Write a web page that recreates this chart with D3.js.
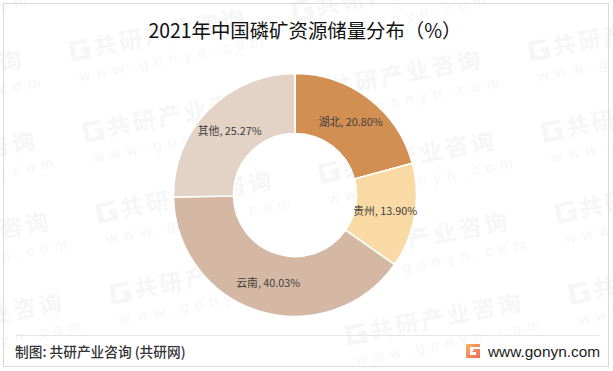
<!DOCTYPE html>
<html><head><meta charset="utf-8">
<script src="https://cdn.jsdelivr.net/npm/d3@7"></script>
<style>html,body{margin:0;padding:0;background:#fff}svg{display:block}</style>
</head><body><svg id="c" width="613" height="371"></svg>
<script>
const categories = ["湖北","贵州","云南","其他"];
const shares = [20.80,13.90,40.03,25.27];
const colors = ["#D28F52","#F9DAA4","#D4B8A3","#E3D2C6"];
const titleText = "2021年中国磷矿资源储量分布（%）";
const sourceText = "制图: 共研产业咨询 (共研网)";
const siteText = "www.gonyn.com";
const wmName = "共研产业咨询", wmSite = "www.gonyn.com";

const cjk = "'Noto Sans CJK SC','Noto Sans',sans-serif";
const svg = d3.select("#c");
const defs = svg.append("defs");
const g1 = defs.append("linearGradient").attr("id","lg").attr("x1",0).attr("y1",0).attr("x2",1).attr("y2",1);
g1.append("stop").attr("offset",0).attr("stop-color","#F9B25A");
g1.append("stop").attr("offset",1).attr("stop-color","#EE6A5A");

svg.append("rect").attr("width",613).attr("height",371).attr("fill","#fff");

// watermark tiles
const wm = svg.append("g").attr("fill","#f6f6f6");
function tile(x,y){
  const t = wm.append("g").attr("transform",`translate(${x},${y}) rotate(-11)`);
  t.append("path").attr("d","M-10,-10 L10,-10 L7,-6 L-5,-6 L-5,6 L4,6 L4,2 L0,2 L3,-2 L10,-2 L10,10 L-10,10 Z");
  t.append("text").attr("x",14).attr("y",8).attr("font-family",cjk).attr("font-weight",700)
    .attr("font-size",23).attr("letter-spacing",3).text(wmName);
  t.append("text").attr("x",-6).attr("y",31).attr("font-family","'Liberation Sans',sans-serif")
    .attr("font-size",15).attr("letter-spacing",6.5).text(wmSite);
}
const cols=[[-143,91],[80,50],[316,91],[539,50]];
cols.forEach(([x,y])=>{ d3.range(-1,4).forEach(i=>{
  const px=x+13.5*i, py=y+81*i;
  if(py>-20 && py<375) tile(px,py);
}); });

svg.append("rect").attr("x",3.5).attr("y",3.5).attr("width",605).attr("height",363)
  .attr("fill","none").attr("stroke","#d9d9d9").attr("stroke-width",1);

svg.append("text").attr("x",305).attr("y",37.5).attr("text-anchor","middle")
  .attr("font-family",cjk).attr("font-size",19.4).attr("fill","#111").text(titleText);

const cx=295, cy=195, R=121.5, r=61.5;
const pie=d3.pie().sort(null).value(d=>d);
const arc=d3.arc().innerRadius(r).outerRadius(R);
const ring=svg.append("g").attr("transform",`translate(${cx},${cy})`);
const arcs=pie(shares);
ring.selectAll("path").data(arcs).join("path").attr("d",arc)
  .attr("fill",(d,i)=>colors[i]).attr("stroke","#fff").attr("stroke-width",1.6);
ring.selectAll("text").data(arcs).join("text")
  .attr("transform",d=>`translate(${arc.centroid(d)})`).attr("dy",4)
  .attr("text-anchor","middle").attr("font-family",cjk).attr("font-size",10.8).attr("fill","#404040")
  .text((d,i)=>`${categories[i]}, ${shares[i].toFixed(2)}%`);

svg.append("line").attr("x1",16).attr("x2",599).attr("y1",335.5).attr("y2",335.5).attr("stroke","#e6e6e6");
svg.append("text").attr("x",15).attr("y",357).attr("font-family",cjk).attr("font-size",13.7).attr("font-weight",500)
  .attr("fill","#333").text(sourceText);
svg.append("path").attr("transform","translate(466,344)")
  .attr("d","M0,0 L14,0 L14,3 L4,3 L4,11 L10,11 L10,8 L6,8 L8,5 L14,5 L14,14 L0,14 Z").attr("fill","url(#lg)");
svg.append("text").attr("x",488).attr("y",356.5).attr("font-family","'Liberation Sans',sans-serif")
  .attr("font-size",15.4).attr("fill","#222").text(siteText);
</script></body></html>
